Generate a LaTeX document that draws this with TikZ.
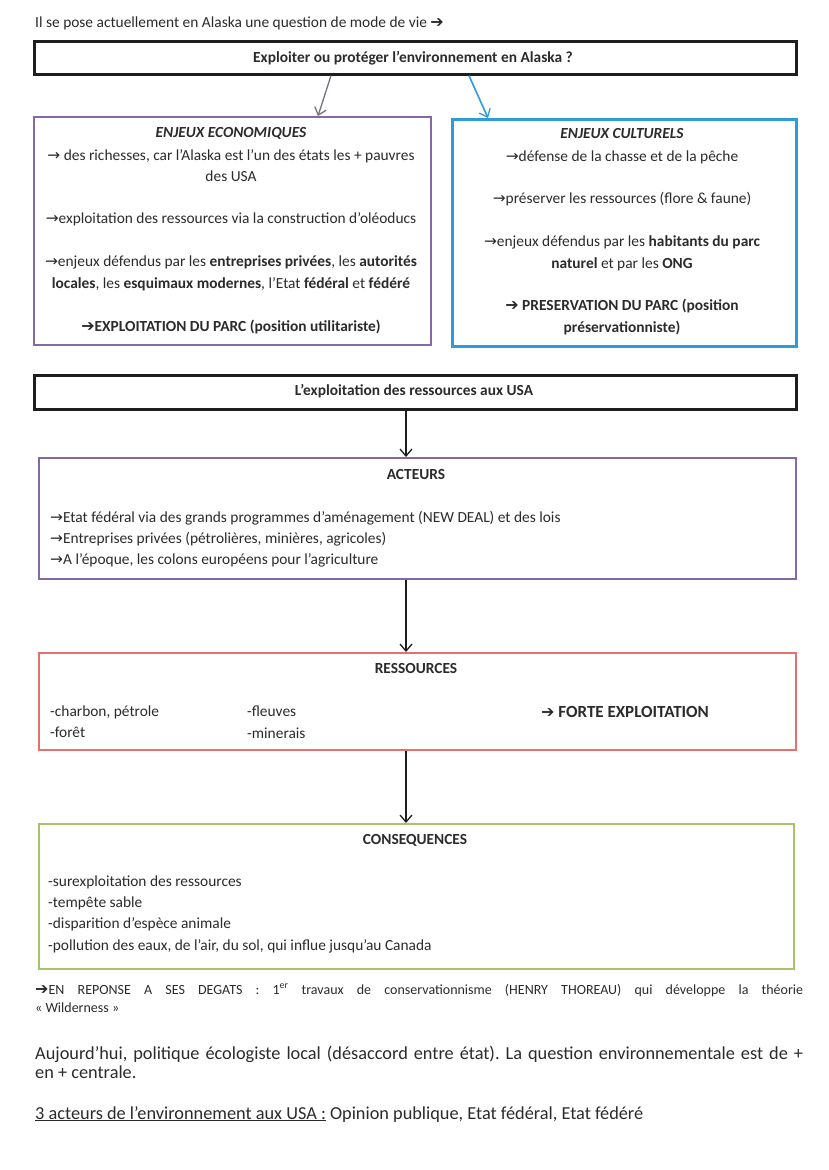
\documentclass[tikz,border=0pt]{standalone}
\usepackage{fontspec}
\setmainfont{Carlito}
\newfontfamily\djv{DejaVu Sans}
\usetikzlibrary{arrows.meta}
\frenchspacing
\definecolor{tc}{HTML}{2B2B2B}
\definecolor{purp}{HTML}{8568A6}
\definecolor{blu}{HTML}{2E9BDA}
\definecolor{redb}{HTML}{E47070}
\definecolor{grn}{HTML}{A8C46A}
\definecolor{blk}{HTML}{1E1E1E}
\definecolor{garr}{HTML}{76707E}
\newcommand\myra{{\djv\fontsize{15.4}{17}\selectfont →}}
\newcommand\myhra{{\djv\fontsize{16}{17}\selectfont ➔}}
\begin{document}
\begin{tikzpicture}[x=1pt,y=-1pt,
  txt/.style={font=\fontsize{15.4}{18}\selectfont\frenchspacing, text=tc, inner sep=0},
  btxt/.style={font=\fontsize{15.4}{18}\selectfont\bfseries\frenchspacing, text=tc, inner sep=0},
  small/.style={font=\fontsize{14}{16}\selectfont\frenchspacing, text=tc, inner sep=0},
  big/.style={font=\fontsize{18.3}{21}\selectfont\frenchspacing, text=tc, inner sep=0},
  box/.style={draw, line width=2.2pt, inner sep=0, anchor=north west},
  arr/.style={line width=1.3pt, -{Straight Barb[length=7pt,width=12pt,line width=1.3pt]}}]
\useasboundingbox[fill=white] (0,0) rectangle (828,1170);

% boxes
\node[box, draw=blk, line width=2.6pt, minimum width=762, minimum height=33] (q) at (33,40) {};
\node[box, draw=purp, minimum width=397, minimum height=228] (eco) at (33,116) {};
\node[box, draw=blu, line width=2.6pt, minimum width=344, minimum height=227] (cul) at (451,118) {};
\node[box, draw=blk, line width=2.6pt, minimum width=762, minimum height=34] (usa) at (33,374) {};
\node[box, draw=purp, minimum width=757, minimum height=121] (act) at (38,457) {};
\node[box, draw=redb, minimum width=757, minimum height=97] (res) at (38,652) {};
\node[box, draw=grn, minimum width=755, minimum height=145] (con) at (38,823) {};

% connectors
\coordinate (l1) at (331,0); \coordinate (l2) at (318,0);
\coordinate (r1) at (469,0); \coordinate (r2) at (488,0);
\coordinate (ax) at (406,0);
\draw[arr, draw=garr] (q.south -| l1) -- (eco.north -| l2);
\draw[arr, draw=blu, line width=1.6pt] (q.south -| r1) -- (cul.north -| r2);
\draw[arr, draw=blk] (usa.south -| ax) -- (act.north -| ax);
\draw[arr, draw=blk] (act.south -| ax) -- (res.north -| ax);
\draw[arr, draw=blk] (res.south -| ax) -- (con.north -| ax);

% top text
\node[txt, anchor=base west] (intro) at (35,27) {Il se pose actuellement en Alaska une question de mode de vie \myhra};
\node[btxt, anchor=base] (qt) at (413,62) {Exploiter ou protéger l’environnement en Alaska ?};

% left box
\node[btxt, anchor=base, font=\fontsize{15.4}{18}\selectfont\bfseries\itshape] (e0) at (231,137) {ENJEUX ECONOMIQUES};
\node[txt, anchor=base] (e1) at (231,160) {\myra{} des richesses, car l’Alaska est l’un des états les + pauvres};
\node[txt, anchor=base] (e2) at (231,181) {des USA};
\node[txt, anchor=base] (e3) at (231,223) {\myra exploitation des ressources via la construction d’oléoducs};
\node[txt, anchor=base] (e4) at (231,266) {\myra enjeux défendus par les \textbf{entreprises privées}, les \textbf{autorités}};
\node[txt, anchor=base] (e5) at (231,288) {\textbf{locales}, les \textbf{esquimaux modernes}, l’Etat \textbf{fédéral} et \textbf{fédéré}};
\node[btxt, anchor=base] (e6) at (231,331) {\myhra EXPLOITATION DU PARC (position utilitariste)};

% right box
\node[btxt, anchor=base, font=\fontsize{15.4}{18}\selectfont\bfseries\itshape] (c0) at (622,138) {ENJEUX CULTURELS};
\node[txt, anchor=base] (c1) at (622,161) {\myra défense de la chasse et de la pêche};
\node[txt, anchor=base] (c2) at (622,203) {\myra préserver les ressources (flore \& faune)};
\node[txt, anchor=base] (c3) at (622,246) {\myra enjeux défendus par les \textbf{habitants du parc}};
\node[txt, anchor=base] (c4) at (622,268) {\textbf{naturel} et par les \textbf{ONG}};
\node[btxt, anchor=base] (c5) at (622,310) {\myhra{} PRESERVATION DU PARC (position};
\node[btxt, anchor=base] (c6) at (622,332) {préservationniste)};

% USA
\node[btxt, anchor=base] (ut) at (414,395) {L’exploitation des ressources aux USA};

% acteurs
\node[btxt, anchor=base] (a0) at (416,479) {ACTEURS};
\node[txt, anchor=base west] (a1) at (50,522) {\myra Etat fédéral via des grands programmes d’aménagement (NEW DEAL) et des lois};
\node[txt, anchor=base west] (a2) at (50,543) {\myra Entreprises privées (pétrolières, minières, agricoles)};
\node[txt, anchor=base west] (a3) at (50,564) {\myra A l’époque, les colons européens pour l’agriculture};

% ressources
\node[btxt, anchor=base] (r0) at (416,673) {RESSOURCES};
\node[txt, anchor=base west] (rr1) at (50,716) {-charbon, pétrole};
\node[txt, anchor=base west] (rr2) at (50,737) {-forêt};
\node[txt, anchor=base west] (rr3) at (247,716) {-fleuves};
\node[txt, anchor=base west] (rr4) at (247,738) {-minerais};
\node[btxt, anchor=base west, font=\fontsize{17}{20}\selectfont\bfseries] (rr5) at (541,717) {\myhra{} FORTE EXPLOITATION};

% consequences
\node[btxt, anchor=base] (k0) at (415,844) {CONSEQUENCES};
\node[txt, anchor=base west] (k1) at (48,886) {-surexploitation des ressources};
\node[txt, anchor=base west] (k2) at (48,907) {-tempête sable};
\node[txt, anchor=base west] (k3) at (48,928) {-disparition d’espèce animale};
\node[txt, anchor=base west] (k4) at (48,950) {-pollution des eaux, de l’air, du sol, qui influe jusqu’au Canada};

% bottom text
\node[small, anchor=base west] (b1) at (35,994) {\makebox[768pt][s]{\myhra EN REPONSE A SES DEGATS : 1\textsuperscript{er} travaux de conservationnisme (HENRY THOREAU) qui développe la théorie}};
\node[small, anchor=base west] (b2) at (35,1012) {« Wilderness »};
\node[big, anchor=base west] (b3) at (35,1059) {\makebox[768pt][s]{Aujourd’hui, politique écologiste local (désaccord entre état). La question environnementale est de +}};
\node[big, anchor=base west] (b4) at (35,1078) {en + centrale.};
\node[big, anchor=base west] (b5) at (35,1119) {\underline{3 acteurs de l’environnement aux USA :} Opinion publique, Etat fédéral, Etat fédéré};
\end{tikzpicture}
\end{document}
